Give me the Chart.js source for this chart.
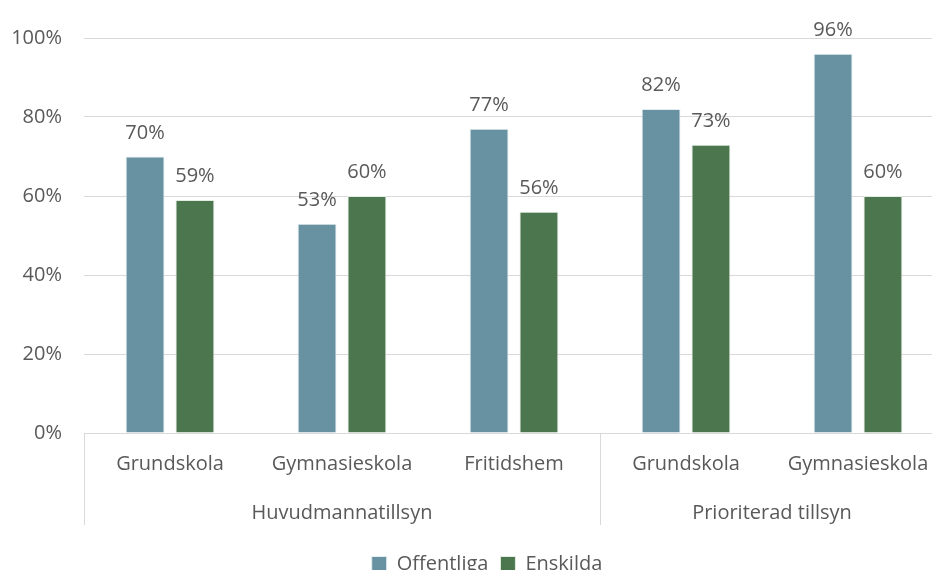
<!DOCTYPE html>
<html>
<head>
<meta charset="utf-8">
<script src="https://cdn.jsdelivr.net/npm/chart.js@4.4.1/dist/chart.umd.min.js"></script>
<style>
  html, body { margin: 0; padding: 0; background: #fff; overflow: hidden; }
  #wrap { position: absolute; left: 0; top: 0; width: 974px; height: 584px; }
</style>
</head>
<body>
<div id="wrap"><canvas id="myChart"></canvas></div>
<script>
// data
const categories = ['Grundskola', 'Gymnasieskola', 'Fritidshem', 'Grundskola', 'Gymnasieskola'];
const groups = ['Huvudmannatillsyn', 'Huvudmannatillsyn', 'Huvudmannatillsyn', 'Prioriterad tillsyn', 'Prioriterad tillsyn'];
const offentliga = [70, 53, 77, 82, 96];
const enskilda = [59, 60, 56, 73, 60];
const yTicks = [0, 20, 40, 60, 80, 100];

const textColor = '#595959';
const gridColor = '#d9d9d9';
const fontFamily = '"Open Sans", "Noto Sans", sans-serif';
const fontSize = 20;

// etiketter ovanför staplarna
const valueLabels = {
    id: 'valueLabels',
    afterDatasetsDraw(chart) {
        const c = chart.ctx;
        c.save();
        c.font = fontSize + 'px ' + fontFamily;
        c.fillStyle = textColor;
        c.textAlign = 'center';
        c.textBaseline = 'alphabetic';
        chart.data.datasets.forEach((ds, i) => {
            chart.getDatasetMeta(i).data.forEach((bar, j) => {
                c.fillText(ds.data[j] + '%', bar.x, bar.y - 18);
            });
        });
        c.restore();
    }
};

// legenden står lite till höger om mitten i originalet
const legendShift = {
    id: 'legendShift',
    afterLayout(chart) {
        chart.legend.left += 15;
        chart.legend.right += 15;
    }
};

// grupperad x-axel: linjer och gruppnamn
const groupAxis = {
    id: 'groupAxis',
    afterDraw(chart) {
        const c = chart.ctx;
        const x = chart.scales.x;
        const area = chart.chartArea;
        const half = (x.getPixelForValue(1) - x.getPixelForValue(0)) / 2;
        c.save();
        c.strokeStyle = gridColor;
        c.lineWidth = 1;
        c.beginPath();
        c.moveTo(area.left, area.bottom + 0.5);
        c.lineTo(area.right, area.bottom + 0.5);
        c.stroke();

        c.font = fontSize + 'px ' + fontFamily;
        c.fillStyle = textColor;
        c.textAlign = 'center';
        c.textBaseline = 'middle';
        let start = 0;
        for (let i = 1; i <= groups.length; i++) {
            if (i === groups.length || groups[i] !== groups[start]) {
                const left = x.getPixelForValue(start) - half;
                const right = x.getPixelForValue(i - 1) + half;
                c.fillText(groups[start], (left + right) / 2, area.bottom + 80);
                [left, right].forEach(px => {
                    c.beginPath();
                    c.moveTo(Math.round(px) + 0.5, area.bottom);
                    c.lineTo(Math.round(px) + 0.5, area.bottom + 92);
                    c.stroke();
                });
                start = i;
            }
        }
        c.restore();
    }
};

new Chart(document.getElementById('myChart'), {
    type: 'bar',
    data: {
        labels: categories,
        datasets: [
            {
                label: 'Offentliga',
                data: offentliga,
                backgroundColor: '#6892a2',
                borderColor: '#e4eef1',
                borderWidth: 1,
                categoryPercentage: 0.58,
                barPercentage: 0.78
            },
            {
                label: 'Enskilda',
                data: enskilda,
                backgroundColor: '#4c774e',
                borderColor: '#e2ece2',
                borderWidth: 1,
                categoryPercentage: 0.58,
                barPercentage: 0.78
            }
        ]
    },
    options: {
        responsive: true,
        maintainAspectRatio: false,
        animation: false,
        layout: { padding: { top: 38, left: 0, right: 30, bottom: 0 } },
        plugins: {
            legend: {
                position: 'bottom',
                labels: {
                    color: textColor,
                    font: { family: fontFamily, size: fontSize },
                    boxWidth: 15,
                    boxHeight: 15,
                    padding: 12
                }
            },
            tooltip: { enabled: false }
        },
        scales: {
            x: {
                grid: { display: false, drawTicks: false },
                border: { display: false },
                ticks: {
                    color: textColor,
                    font: { family: fontFamily, size: fontSize },
                    padding: 19,
                    maxRotation: 0
                },
                afterFit(scale) { scale.height = 109; }
            },
            y: {
                min: 0,
                max: 100,
                afterBuildTicks(scale) { scale.ticks = yTicks.map(v => ({ value: v })); },
                afterFit(scale) { scale.width = 84; },
                grid: { color: gridColor, drawTicks: false },
                border: { display: false },
                ticks: {
                    color: textColor,
                    font: { family: fontFamily, size: fontSize },
                    padding: 22,
                    callback: v => v + '%'
                }
            }
        }
    },
    plugins: [valueLabels, groupAxis, legendShift]
});
</script>
</body>
</html>
